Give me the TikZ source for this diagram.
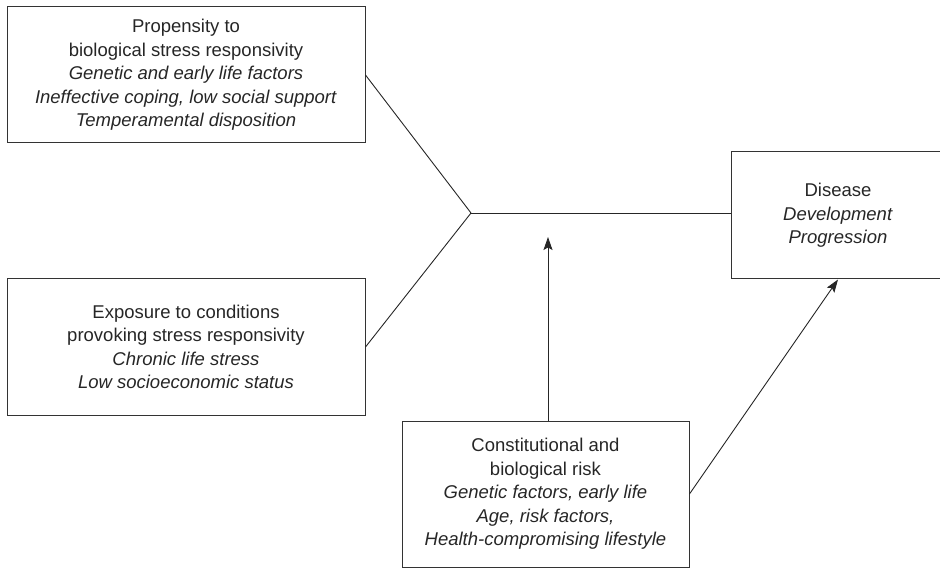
\documentclass[tikz,border=0pt]{standalone}
\usepackage{fontspec}
\setmainfont{Liberation Sans}
\usepackage{tikz}
\usetikzlibrary{arrows.meta,positioning}

\begin{document}
\begin{tikzpicture}[
  x=1pt,y=-1pt,
  font=\fontsize{18.5}{23.5}\selectfont,
  block/.style={draw=black!80,line width=1pt,align=center,text=black!85,inner sep=0pt},
  link/.style={line width=0.9pt,black!85},
  push/.style={link,-{Stealth[length=13pt,width=9pt,inset=2.5pt]}}
]
\useasboundingbox (0,0) rectangle (940,569);
\node[block,minimum width=358,minimum height=136] (prop) at (186,75)
  {Propensity to\\biological stress responsivity\\\textit{Genetic and early life factors}\\\textit{Ineffective coping, low social support}\\\textit{Temperamental disposition}};
\node[block,minimum width=358,minimum height=136] (expo) at (186,347)
  {Exposure to conditions\\provoking stress responsivity\\\textit{Chronic life stress}\\\textit{Low socioeconomic status}};
\node[block,minimum width=214,minimum height=127] (dis) at (838,215.5)
  {Disease\\\textit{Development}\\\textit{Progression}};
\node[block,minimum width=287,minimum height=146] (const) at (545.5,494)
  {Constitutional and\\biological risk\\\textit{Genetic factors, early life}\\\textit{Age, risk factors,}\\\textit{Health-compromising lifestyle}};

\coordinate (join) at (471,213);
\coordinate (mod) at (548,237);

\draw[link] (prop.east) -- (join);
\draw[link] (expo.east) -- (join);
\draw[link] (join) -- (join -| dis.west);
\draw[push] (const.north -| mod) -- (mod);
\draw[push] (const.east) -- (dis.south);
\end{tikzpicture}
\end{document}
